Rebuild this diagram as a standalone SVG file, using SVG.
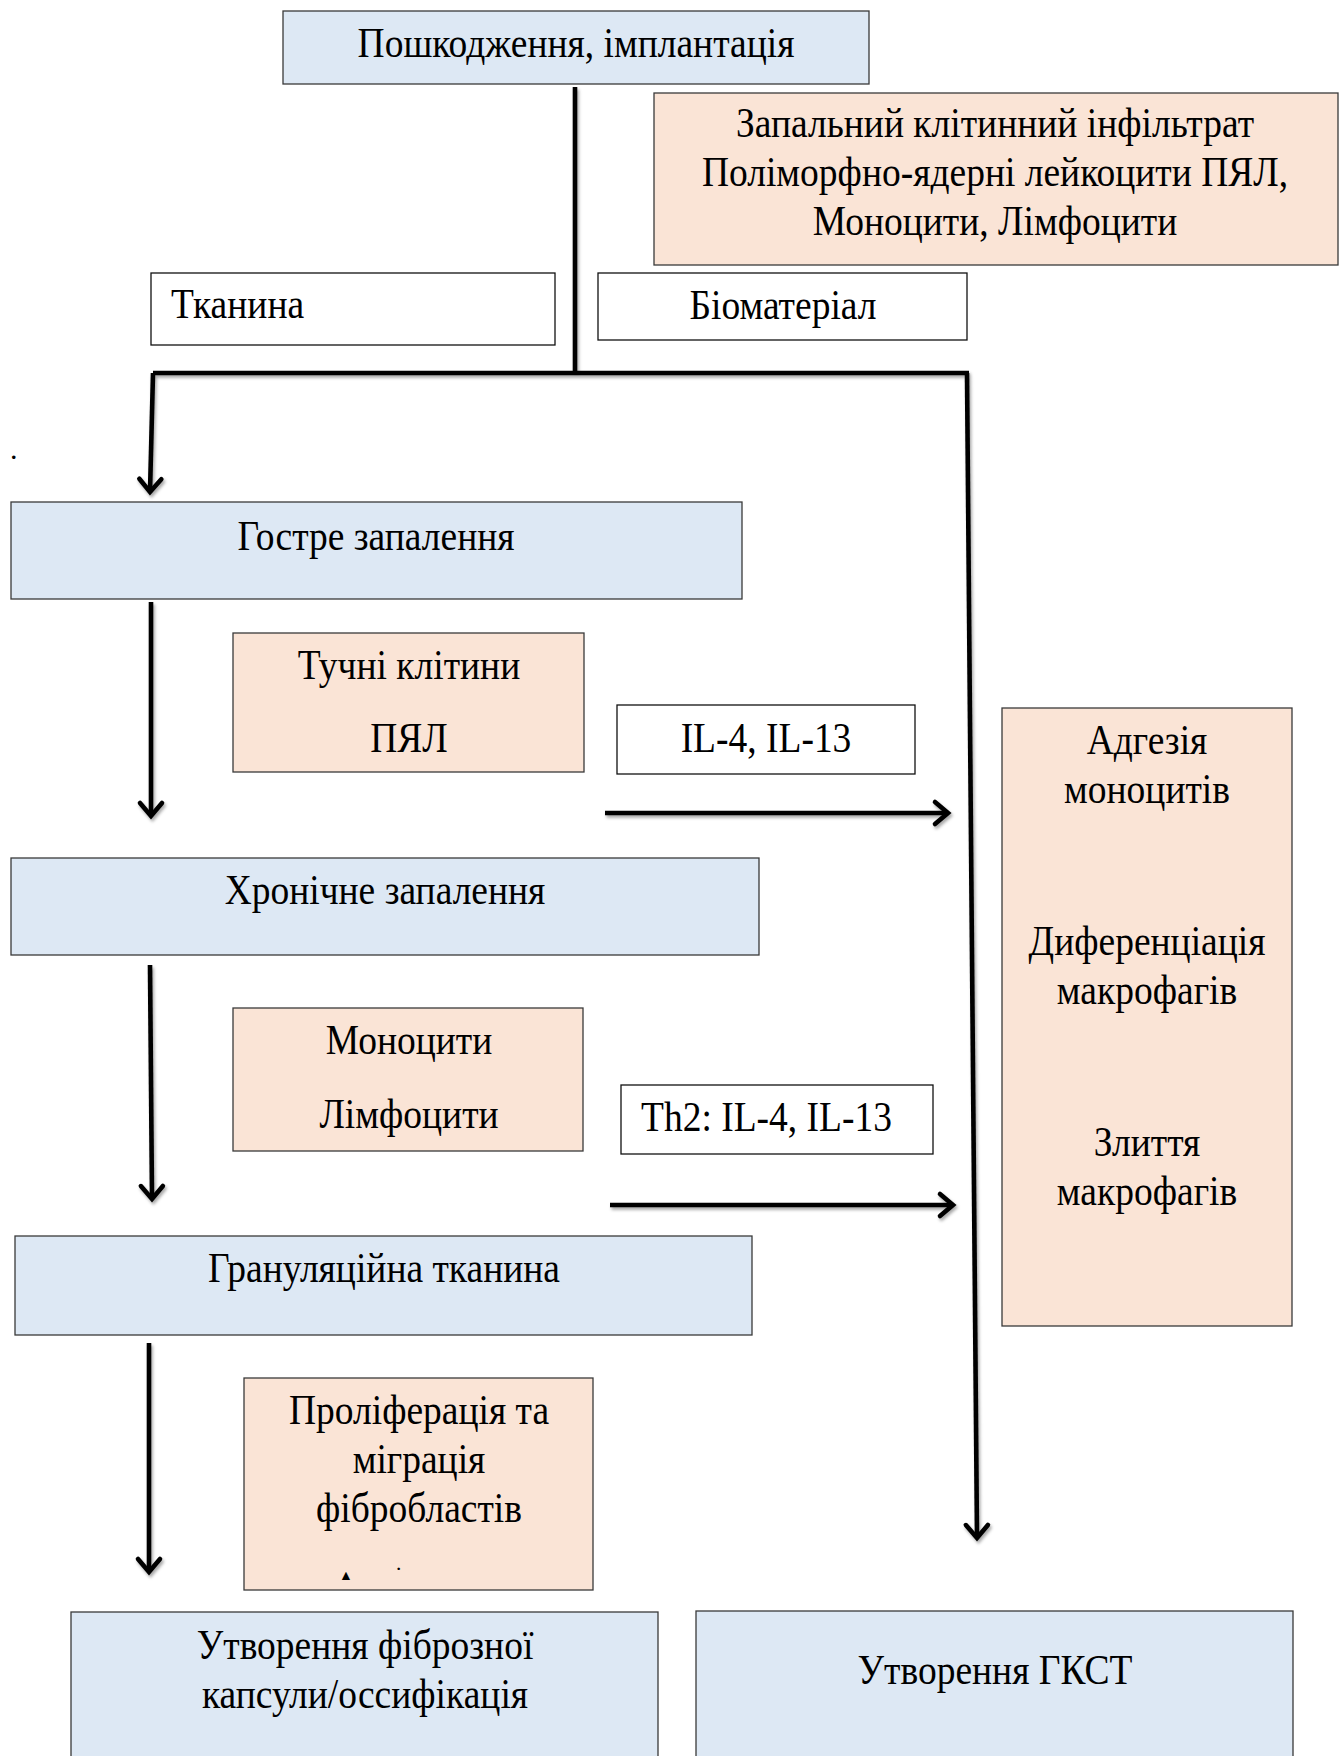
<svg xmlns="http://www.w3.org/2000/svg" width="1339" height="1756" viewBox="0 0 1339 1756">
<style>
  .blue { fill: #dde8f4; stroke: #3a3a3a; stroke-width: 1.3; }
  .pink { fill: #fae4d6; stroke: #3a3a3a; stroke-width: 1.3; }
  .white { fill: #ffffff; stroke: #111111; stroke-width: 1.3; }
  text { font-family: "Liberation Serif", "Times New Roman", serif; font-size: 37.5px; fill: #000; }
  .c { text-anchor: middle; }
  .conn { stroke: #000; stroke-width: 4.6; fill: none; stroke-linecap: butt; }
</style>
<defs>
  <marker id="arr" markerUnits="userSpaceOnUse" markerWidth="40" markerHeight="40" viewBox="-20 -20 40 40" refX="0" refY="0" orient="auto" overflow="visible">
    <path d="M-13,-11 L0,0 L-13,11" fill="none" stroke="#000" stroke-width="4.6" stroke-linecap="round" stroke-linejoin="miter"/>
  </marker>
  <filter id="sh" x="-10%" y="-10%" width="120%" height="120%">
    <feDropShadow dx="1.5" dy="2.5" stdDeviation="1.5" flood-color="#000" flood-opacity="0.35"/>
  </filter>
</defs>

<rect width="1339" height="1756" fill="#ffffff"/>

<g id="connectors" filter="url(#sh)">
  <line class="conn" x1="575" y1="87" x2="575" y2="373"/>
  <polyline class="conn" points="153,373 969,373"/>
  <line class="conn" x1="153" y1="373" x2="150" y2="492" marker-end="url(#arr)"/>
  <line class="conn" x1="967" y1="373" x2="977" y2="1538" marker-end="url(#arr)"/>
  <line class="conn" x1="151" y1="602" x2="151" y2="816" marker-end="url(#arr)"/>
  <line class="conn" x1="150" y1="965" x2="152" y2="1199" marker-end="url(#arr)"/>
  <line class="conn" x1="149" y1="1343" x2="149" y2="1572" marker-end="url(#arr)"/>
  <line class="conn" x1="605" y1="813" x2="948" y2="813" marker-end="url(#arr)"/>
  <line class="conn" x1="610" y1="1205" x2="953" y2="1205" marker-end="url(#arr)"/>
</g>

<g id="n-injury">
  <rect class="blue" x="283" y="11" width="586" height="73"/>
  <text class="c" transform="translate(576,57) scale(1,1.15)">Пошкодження, імплантація</text>
</g>

<g id="n-infiltrate">
  <rect class="pink" x="654" y="93" width="684" height="172"/>
  <text class="c" transform="translate(995,137) scale(1,1.15)">Запальний клітинний інфільтрат</text>
  <text class="c" transform="translate(995,186) scale(1,1.15)">Поліморфно-ядерні лейкоцити ПЯЛ,</text>
  <text class="c" transform="translate(995,235) scale(1,1.15)">Моноцити, Лімфоцити</text>
</g>

<g id="n-tissue">
  <rect class="white" x="151" y="273" width="404" height="72"/>
  <text transform="translate(171,318) scale(1,1.15)">Тканина</text>
</g>

<g id="n-biomaterial">
  <rect class="white" x="598" y="273" width="369" height="67"/>
  <text class="c" transform="translate(783,319) scale(1,1.15)">Біоматеріал</text>
</g>

<g id="n-dot">
  <text x="10" y="459" style="font-size:30px">.</text>
</g>

<g id="n-acute">
  <rect class="blue" x="11" y="502" width="731" height="97"/>
  <text class="c" transform="translate(376,550) scale(1,1.15)">Гостре запалення</text>
</g>

<g id="n-mast">
  <rect class="pink" x="233" y="633" width="351" height="139"/>
  <text class="c" transform="translate(409,679) scale(1,1.15)">Тучні клітини</text>
  <text class="c" transform="translate(409,752) scale(1,1.15)">ПЯЛ</text>
</g>

<g id="n-il">
  <rect class="white" x="617" y="705" width="298" height="69"/>
  <text class="c" transform="translate(766,752) scale(1,1.15)">IL-4, IL-13</text>
</g>

<g id="n-macro">
  <rect class="pink" x="1002" y="708" width="290" height="618"/>
  <text class="c" transform="translate(1147,754) scale(1,1.15)">Адгезія</text>
  <text class="c" transform="translate(1147,803) scale(1,1.15)">моноцитів</text>
  <text class="c" transform="translate(1147,955) scale(1,1.15)">Диференціація</text>
  <text class="c" transform="translate(1147,1004) scale(1,1.15)">макрофагів</text>
  <text class="c" transform="translate(1147,1156) scale(1,1.15)">Злиття</text>
  <text class="c" transform="translate(1147,1205) scale(1,1.15)">макрофагів</text>
</g>

<g id="n-chronic">
  <rect class="blue" x="11" y="858" width="748" height="97"/>
  <text class="c" transform="translate(385,904) scale(1,1.15)">Хронічне запалення</text>
</g>

<g id="n-mono">
  <rect class="pink" x="233" y="1008" width="350" height="143"/>
  <text class="c" transform="translate(409,1054) scale(1,1.15)">Моноцити</text>
  <text class="c" transform="translate(409,1128) scale(1,1.15)">Лімфоцити</text>
</g>

<g id="n-th2">
  <rect class="white" x="621" y="1085" width="312" height="69"/>
  <text transform="translate(641,1131) scale(1,1.15)">Th2: IL-4, IL-13</text>
</g>

<g id="n-granulation">
  <rect class="blue" x="15" y="1236" width="737" height="99"/>
  <text class="c" transform="translate(384,1282) scale(1,1.15)">Грануляційна тканина</text>
</g>

<g id="n-fibro">
  <rect class="pink" x="244" y="1378" width="349" height="212"/>
  <text class="c" transform="translate(419,1424) scale(1,1.15)">Проліферація та</text>
  <text class="c" transform="translate(419,1473) scale(1,1.15)">міграція</text>
  <text class="c" transform="translate(419,1522) scale(1,1.15)">фібробластів</text>
  <text x="339" y="1580" style="font-size:14px">▲</text>
  <text x="395" y="1576" style="font-size:22px">·</text>
</g>

<g id="n-capsule">
  <rect class="blue" x="71" y="1612" width="587" height="160"/>
  <text class="c" transform="translate(365,1659) scale(1,1.15)">Утворення фіброзної</text>
  <text class="c" transform="translate(365,1708) scale(1,1.15)">капсули/оссифікація</text>
</g>

<g id="n-gkst">
  <rect class="blue" x="696" y="1611" width="597" height="160"/>
  <text class="c" transform="translate(995,1684) scale(1,1.15)">Утворення ГКСТ</text>
</g>
</svg>
